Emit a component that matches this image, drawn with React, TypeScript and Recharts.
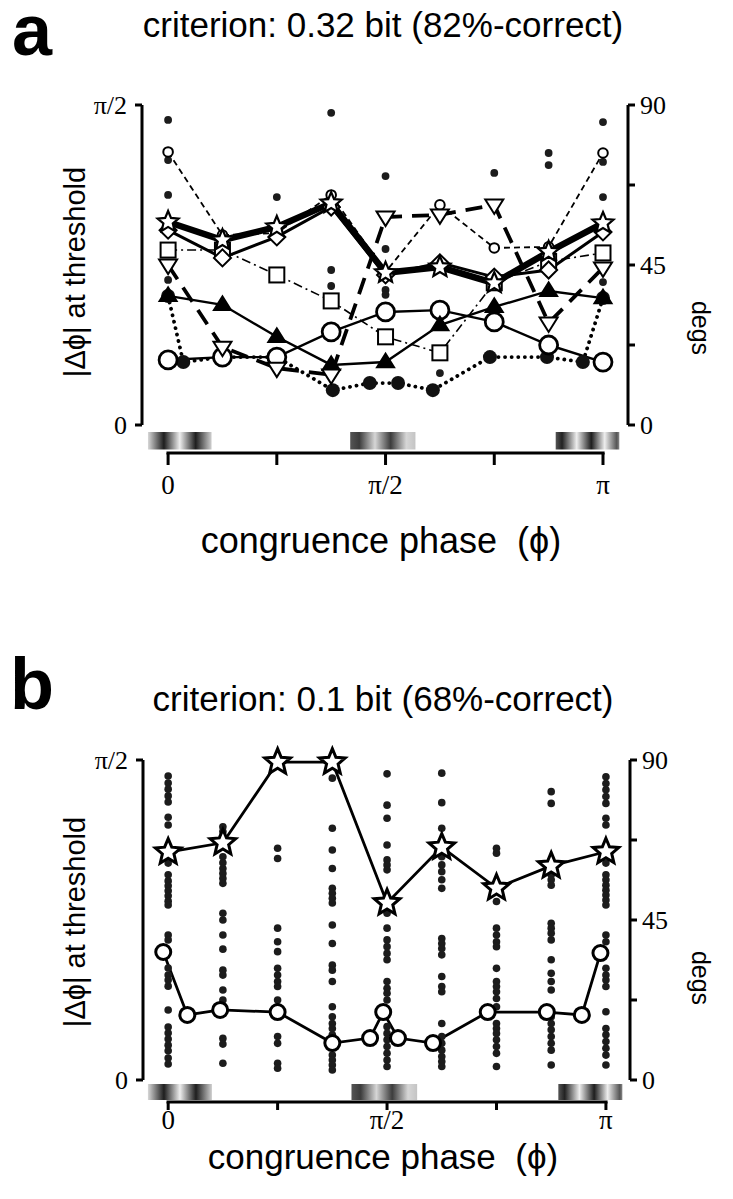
import React from 'react';
import { ComposedChart, Line, Scatter, XAxis, YAxis, ReferenceLine, ReferenceArea } from 'recharts';

// congruence phase in steps of pi/8 (0 .. 8 -> 0 .. pi), thresholds in degrees
const phase = [0, 1, 2, 3, 4, 5, 6, 7, 8];
const xTicks = [0, 2, 4, 6, 8];
const xTickLabels: Record<number, string> = { 0: '0', 4: 'π/2', 8: 'π' };

// panel a
const starA = [57.1, 52.0, 55.7, 62.4, 42.8, 44.4, 39.9, 48.7, 56.8];
const diamondA = [54.8, 47.0, 52.9, 61.3, 42.2, 45.6, 41.6, 43.6, 54.3];
const smallCircA = [76.8, 53.4, 54.0, 64.7, 43.0, 61.9, 49.8, 50.1, 76.5];
const squareA = [49.2, 49.2, 42.2, 34.9, 24.8, 20.3, 40.0, 46.0, 48.4];
const triDownA = [45.0, 21.9, 16.0, 14.1, 58.5, 59.1, 61.9, 28.7, 44.2];
const triUpA = [36.3, 33.8, 24.8, 16.9, 17.7, 28.1, 33.2, 37.7, 35.7];
const bigCircA = [18.3, 19.1, 19.1, 26.2, 31.8, 32.3, 29.0, 22.5, 17.7];
const filledPhaseA = [0, 0.28, 1, 2, 3.03, 3.71, 4.23, 4.87, 5.92, 6.97, 7.63, 8];
const filledA = [36.3, 17.7, 19.1, 19.1, 9.8, 11.8, 11.8, 9.8, 19.1, 19.1, 17.7, 35.7];
const dotsPhaseA = [0, 0, 0, 0, 2, 3, 3, 3, 4, 4, 4, 4, 5, 6, 7, 7, 8, 8, 8, 8];
const dotsA = [85.8, 74.5, 64.7, 40.8, 64.1, 87.8, 43.6, 39.1, 70.0, 49.5, 38.0, 36.6, 14.6, 70.9, 76.5, 73.1, 85.2, 74.0, 64.1, 40.2];

// panel b
const starB = [64.1, 66.7, 89.4, 89.4, 49.8, 65.5, 54.0, 60.2, 64.2];
const circPhaseB = [-0.09, 0.35, 0.95, 2, 3, 3.69, 3.93, 4.2, 4.84, 5.84, 6.92, 7.56, 7.9];
const circB = [36.0, 18.3, 19.7, 19.1, 10.4, 11.8, 19.1, 11.8, 10.4, 19.1, 19.1, 18.3, 35.7];
const dotsB = [
  [85.5, 83.5, 81.8, 79.9, 78.2, 73.9, 71.7, 61.0, 57.7, 56.0, 54.6, 53.2, 51.8, 50.3, 49.2, 40.8, 39.4, 31.5, 29.5, 28.1, 26.4, 19.7, 14.9, 13.2, 11.5, 9.8, 8.2, 6.2, 4.5],
  [71.2, 69.9, 62.8, 61.1, 59.5, 58.1, 56.7, 55.3, 46.9, 45.0, 40.8, 36.8, 30.9, 29.5, 25.3, 22.5, 11.7, 10.1, 4.7],
  [65.2, 62.3, 42.7, 38.9, 36.1, 31.4, 29.5, 27.7, 26.3, 22.5, 20.6, 18.8, 12.2, 10.3, 4.7, 3.3],
  [84.9, 70.8, 64.7, 59.5, 53.9, 52.5, 51.1, 49.8, 43.6, 38.4, 32.3, 30.9, 27.7, 20.6, 17.8, 15.9, 14.5, 12.7, 10.3, 7.0, 5.6, 4.2, 2.8],
  [86.1, 77.3, 73.6, 66.1, 61.9, 60.5, 59.1, 46.9, 42.7, 39.4, 37.5, 35.6, 33.8, 27.7, 25.8, 24.4, 22.5, 15.0, 13.1, 11.3, 9.4, 7.5, 5.6, 3.8],
  [86.3, 78.0, 70.8, 62.8, 60.5, 58.6, 56.3, 53.9, 39.8, 38.4, 37.0, 35.2, 29.1, 26.3, 24.8, 15.9, 12.2, 10.3, 8.4, 6.6, 5.2, 3.8],
  [65.2, 63.8, 50.2, 42.7, 40.8, 38.9, 37.5, 31.4, 27.7, 26.3, 24.8, 22.9, 20.6, 15.9, 14.5, 13.1, 11.3, 9.4, 7.5, 3.8],
  [81.1, 77.8, 57.7, 56.3, 54.8, 44.1, 42.7, 41.3, 39.4, 33.8, 30.0, 27.7, 25.3, 19.7, 17.8, 15.9, 14.1, 12.2, 10.3, 8.4, 4.2],
  [85.3, 83.4, 81.6, 79.7, 77.8, 73.6, 71.7, 61.0, 57.7, 56.3, 54.8, 53.4, 52.0, 50.6, 49.2, 40.8, 38.9, 31.4, 29.5, 28.1, 26.3, 19.2, 14.5, 12.7, 10.8, 8.9, 7.0, 4.2],
];

// grating icons under the axis: phase ranges and pattern
const gratingsX = [[-0.37, 0.8], [3.35, 4.55], [7.13, 8.3]];
const gratingIds = ['grat0', 'grat1', 'grat2'];

const pts = (xs: number[], ys: number[]) => xs.map((x, i) => ({ x, y: ys[i] }));

const SANS = '"Liberation Sans", Arial, sans-serif';
const SERIF = '"Liberation Serif", "Times New Roman", serif';

function starPath(cx: number, cy: number, R: number, r: number) {
  let d = '';
  for (let i = 0; i < 10; i++) {
    const a = (-90 + i * 36) * Math.PI / 180;
    const rad = i % 2 ? r : R;
    d += (i ? 'L' : 'M') + (cx + rad * Math.cos(a)).toFixed(2) + ',' + (cy + rad * Math.sin(a)).toFixed(2);
  }
  return d + 'Z';
}

const marker = (kind: string, s: number, sw = 2) => (p: any) => {
  const { cx, cy, index } = p;
  if (cx == null || cy == null) return <g key={index} />;
  const st = { stroke: '#000', strokeWidth: sw, fill: '#fff' };
  switch (kind) {
    case 'star':
      return <path key={index} d={starPath(cx, cy, s, s * 0.45)} {...st} strokeLinejoin="miter" />;
    case 'diamond':
      return <polygon key={index} points={`${cx},${cy - s} ${cx + s},${cy} ${cx},${cy + s} ${cx - s},${cy}`} {...st} />;
    case 'square':
      return <rect key={index} x={cx - s} y={cy - s} width={2 * s} height={2 * s} {...st} />;
    case 'triDown':
      return <polygon key={index} points={`${cx - s},${cy - 0.6 * s} ${cx + s},${cy - 0.6 * s} ${cx},${cy + s}`} {...st} />;
    case 'triUp':
      return <polygon key={index} points={`${cx - s},${cy + 0.6 * s} ${cx + s},${cy + 0.6 * s} ${cx},${cy - s}`} {...st} fill="#000" />;
    case 'dot':
      return <circle key={index} cx={cx} cy={cy} r={s} fill="#111" />;
    default:
      return <circle key={index} cx={cx} cy={cy} r={s} {...st} />;
  }
};

const smallDot = (r: number) => (p: any) => <circle cx={p.cx} cy={p.cy} r={r} fill="#1c1c1c" />;

interface PanelProps {
  top: number; height: number;
  plotTop: number; plotBottom: number; left: number; right: number;
  xmin: number; xmax: number; ymin: number; gy: [number, number];
  xTickSize: number; xTickMargin: number;
  children: React.ReactNode;
}

function Panel({ top, height, plotTop, plotBottom, left, right, xmin, xmax, ymin, gy, xTickSize, xTickMargin, children }: PanelProps) {
  const XH = 60;
  const tickFont = { fontSize: 26, fontFamily: SERIF, fill: '#000' };
  return (
    <div style={{ position: 'absolute', left: 0, top }}>
      <ComposedChart
        width={733}
        height={height}
        margin={{ top: plotTop - top, bottom: top + height - plotBottom - XH, left: 0, right: 0 }}
      >
        <XAxis
          dataKey="x" type="number" domain={[xmin, xmax]}
          ticks={xTicks} interval={0} height={XH}
          axisLine={false} tickLine={{ stroke: '#000', strokeWidth: 3 }} tickSize={xTickSize} tickMargin={xTickMargin}
          tick={{ ...tickFont, fontSize: 27 }}
          tickFormatter={(v: number) => xTickLabels[v] ?? ''}
        />
        <YAxis
          yAxisId="l" dataKey="y" type="number" domain={[ymin, 90]}
          ticks={[0, 90]} interval={0} width={left}
          axisLine={false} tickLine={{ stroke: '#000', strokeWidth: 3 }} tickSize={7} tickMargin={8}
          tick={tickFont}
          tickFormatter={(v: number) => (v === 90 ? 'π/2' : '0')}
        />
        <YAxis
          yAxisId="r" orientation="right" type="number" domain={[ymin, 90]} allowDataOverflow
          ticks={[0, 22.5, 45, 67.5, 90]} interval={0} width={733 - right}
          axisLine={false} tickLine={{ stroke: '#000', strokeWidth: 3 }} tickSize={7} tickMargin={5}
          tick={tickFont}
          tickFormatter={(v: number) => (v % 45 === 0 ? String(v) : '')}
        />
        <ReferenceLine yAxisId="l" segment={[{ x: xmin, y: 0 }, { x: xmin, y: 90 }]} stroke="#000" strokeWidth={3} ifOverflow="visible" />
        <ReferenceLine yAxisId="l" segment={[{ x: xmax, y: 0 }, { x: xmax, y: 90 }]} stroke="#000" strokeWidth={3} ifOverflow="visible" />
        <ReferenceLine yAxisId="l" segment={[{ x: -0.03, y: ymin }, { x: 8.03, y: ymin }]} stroke="#000" strokeWidth={3} ifOverflow="visible" />
        {gratingsX.map((g, i) => (
          <ReferenceArea key={i} yAxisId="l" x1={g[0]} x2={g[1]} y1={gy[0]} y2={gy[1]} fill={`url(#${gratingIds[i]})`} fillOpacity={1} stroke="none" ifOverflow="visible" />
        ))}
        {children}
      </ComposedChart>
    </div>
  );
}

const Txt = ({ x, y, size, rot = 0, bold = false, family = SANS, children }: any) => (
  <div
    style={{
      position: 'absolute', left: x, top: y, fontSize: size, fontFamily: family,
      fontWeight: bold ? 700 : 400, lineHeight: 1, whiteSpace: 'pre', color: '#000',
      transform: `translate(-50%, -50%) rotate(${rot}deg)`,
    }}
  >
    {children}
  </div>
);

export default function App() {
  const lineProps = { yAxisId: 'l', dataKey: 'y', type: 'linear' as const, stroke: '#000', isAnimationActive: false, activeDot: false as const };
  const dotsAPts = pts(dotsPhaseA, dotsA);
  const dotsBPts = dotsB.flatMap((col, i) => col.map((y) => ({ x: phase[i], y })));
  return (
    <div style={{ position: 'absolute', left: 0, top: 0, width: 733, height: 1199, background: '#fff', overflow: 'hidden' }}>
      <svg width={0} height={0} style={{ position: 'absolute' }}>
        <defs>
          <linearGradient id="grat0" x1="0" x2="1" y1="0" y2="0">
            <stop offset="0" stopColor="#d8d8d8" />
            <stop offset="0.25" stopColor="#1e1e1e" />
            <stop offset="0.5" stopColor="#eeeeee" />
            <stop offset="0.75" stopColor="#1e1e1e" />
            <stop offset="1" stopColor="#cfcfcf" />
          </linearGradient>
          <linearGradient id="grat1" x1="0" x2="1" y1="0" y2="0">
            <stop offset="0" stopColor="#555" />
            <stop offset="0.14" stopColor="#3c3c3c" />
            <stop offset="0.38" stopColor="#d6d6d6" />
            <stop offset="0.62" stopColor="#3c3c3c" />
            <stop offset="0.86" stopColor="#d6d6d6" />
            <stop offset="1" stopColor="#c4c4c4" />
          </linearGradient>
          <linearGradient id="grat2" x1="0" x2="1" y1="0" y2="0">
            <stop offset="0" stopColor="#555" />
            <stop offset="0.1" stopColor="#222" />
            <stop offset="0.33" stopColor="#eeeeee" />
            <stop offset="0.56" stopColor="#1e1e1e" />
            <stop offset="0.77" stopColor="#eeeeee" />
            <stop offset="0.96" stopColor="#555" />
            <stop offset="1" stopColor="#888" />
          </linearGradient>
        </defs>
      </svg>

      <Txt x={32} y={30} size={72} bold>a</Txt>
      <Txt x={383} y={24} size={35}>criterion: 0.32 bit (82%-correct)</Txt>
      <Txt x={75} y={272} size={29} rot={-90}>|Δϕ| at threshold</Txt>
      <Txt x={700} y={328} size={25} rot={90}>degs</Txt>
      <Txt x={381} y={541} size={36}>congruence phase  (ϕ)</Txt>

      <Panel top={0} height={600} plotTop={105} plotBottom={453} left={142} right={628}
        xmin={-0.48} xmax={8.46} ymin={-7.875} gy={[-1.97, -6.9]} xTickSize={12} xTickMargin={10}>
        <Scatter yAxisId="l" data={dotsAPts} shape={smallDot(3.9)} isAnimationActive={false} />
        <Line {...lineProps} data={pts(filledPhaseA, filledA)} strokeWidth={3.8} strokeDasharray="0.1 6.5" strokeLinecap="round" dot={marker('dot', 7)} />
        <Line {...lineProps} data={pts(phase, bigCircA)} strokeWidth={2.4} dot={marker('circle', 9, 2.8)} />
        <Line {...lineProps} data={pts(phase, triUpA)} strokeWidth={2.4} dot={marker('triUp', 8.5)} />
        <Line {...lineProps} data={pts(phase, squareA)} strokeWidth={1.6} strokeDasharray="9 4 2 4" dot={marker('square', 7.5, 2)} />
        <Line {...lineProps} data={pts(phase, smallCircA)} strokeWidth={1.8} strokeDasharray="6 4" dot={marker('circle', 4.8, 2)} />
        <Line {...lineProps} data={pts(phase, triDownA)} strokeWidth={3.8} strokeDasharray="17 10" dot={marker('triDown', 9, 2)} />
        <Line {...lineProps} data={pts(phase, diamondA)} strokeWidth={3} dot={marker('diamond', 8.5, 2)} />
        <Line {...lineProps} data={pts(phase, starA)} strokeWidth={6.5} dot={marker('star', 11, 2.2)} />
      </Panel>

      <Txt x={32} y={684} size={72} bold>b</Txt>
      <Txt x={383} y={698} size={35}>criterion: 0.1 bit (68%-correct)</Txt>
      <Txt x={75} y={922} size={29} rot={-90}>|Δϕ| at threshold</Txt>
      <Txt x={700} y={978} size={25} rot={90}>degs</Txt>
      <Txt x={383} y={1156} size={35}>congruence phase  (ϕ)</Txt>

      <Panel top={600} height={599} plotTop={760} plotBottom={1102} left={143} right={630}
        xmin={-0.46} xmax={8.44} ymin={-6.19} gy={[-1.1, -5.6]} xTickSize={8} xTickMargin={0}>
        <Scatter yAxisId="l" data={dotsBPts} shape={smallDot(3.8)} isAnimationActive={false} />
        <Line {...lineProps} data={pts(circPhaseB, circB)} strokeWidth={2.8} dot={marker('circle', 7.5, 3)} />
        <Line {...lineProps} data={pts(phase, starB)} strokeWidth={2.8} dot={marker('star', 13.5, 3)} />
      </Panel>
    </div>
  );
}
